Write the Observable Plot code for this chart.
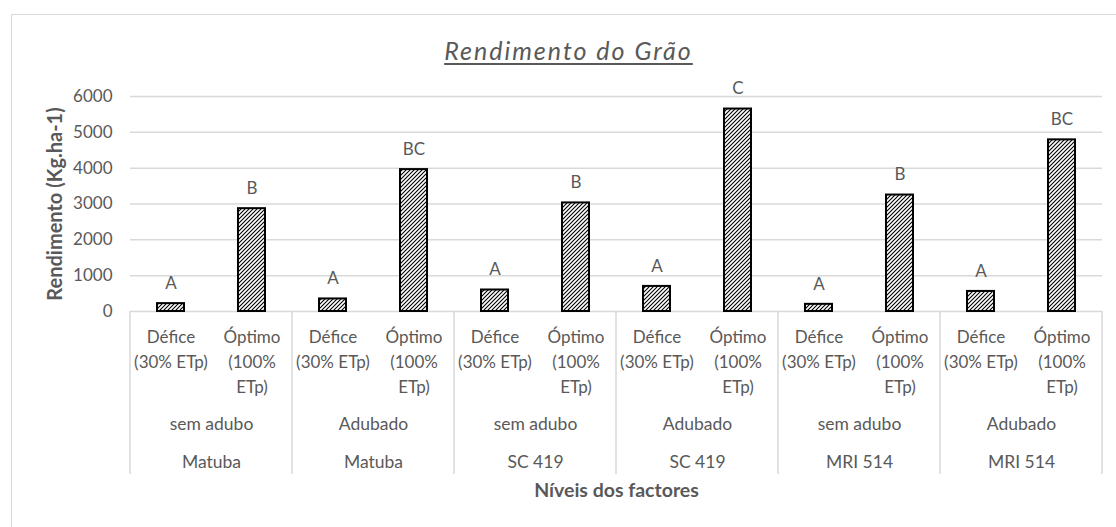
<!DOCTYPE html>
<html>
<head>
<meta charset="utf-8">
<script src="https://cdn.jsdelivr.net/npm/d3@7"></script>
<script src="https://cdn.jsdelivr.net/npm/@observablehq/plot@0.6"></script>
<style>
  html, body { margin: 0; padding: 0; background: #fff; overflow: hidden; }
  #wrap { position: relative; width: 1116px; height: 527px; overflow: hidden; }
  #border { position: absolute; left: 11px; top: 14px; width: 1200px; height: 600px; border: 1.5px solid #d9d9d9; box-sizing: border-box; }
  #title { position: absolute; left: 0; width: 1137px; top: 33px; text-align: center; font-family: Lato, sans-serif; font-style: italic; font-size: 25px; letter-spacing: 2px; color: #595959; text-decoration: underline; text-underline-offset: 3px; line-height: 34px; }
  #chart { position: absolute; left: 0; top: 0; }
</style>
</head>
<body>
<div id="wrap">
  <div id="border"></div>
  <div id="chart"></div>
  <div id="title">Rendimento do Grão</div>
</div>
<script>
// ---- data ----
const cultivars = ["Matuba", "Matuba", "SC 419", "SC 419", "MRI 514", "MRI 514"];
const fertilization = ["sem adubo", "Adubado", "sem adubo", "Adubado", "sem adubo", "Adubado"];
const levelKeys = ["Défice", "Óptimo"];
const levelLabels = ["Défice\n(30% ETp)", "Óptimo\n(100%\nETp)"];
const values = [220, 2870, 350, 3960, 600, 3030, 700, 5650, 200, 3250, 560, 4790];
const letters = ["A", "B", "A", "BC", "A", "B", "A", "C", "A", "B", "A", "BC"];
const yTicks = [0, 1000, 2000, 3000, 4000, 5000, 6000];
const yTitle = "Rendimento (Kg.ha-1)";
const xTitle = "Níveis dos factores";

// ---- tables built from the arrays ----
const groupKeys = cultivars.map((c, i) => `${c} / ${fertilization[i]}`);
const data = [];
groupKeys.forEach((g, gi) => levelKeys.forEach((l, li) => data.push({
  group: g, level: l, label: levelLabels[li],
  value: values[gi * 2 + li], letter: letters[gi * 2 + li]
})));
const groupsData = groupKeys.map((g, i) => ({group: g, cultivar: cultivars[i], fert: fertilization[i]}));

const plot = Plot.plot({
  width: 1116, height: 527,
  marginTop: 96, marginBottom: 216, marginLeft: 128, marginRight: 13,
  style: {fontFamily: "Lato, sans-serif", fontSize: "17px", color: "#595959", background: "transparent", overflow: "visible"},
  fx: {domain: groupKeys, padding: 0, axis: null},
  x: {domain: levelKeys, paddingInner: 0.667, paddingOuter: 0.333, axis: null},
  y: {domain: [0, 6000], axis: null},
  marks: [
    Plot.gridY(yTicks, {stroke: "#d9d9d9", strokeOpacity: 1, strokeWidth: 1.5}),
    Plot.axisY(yTicks, {tickSize: 0, tickPadding: 18, label: null, tickFormat: d => String(d)}),
    Plot.barY(data, {fx: "group", x: "level", y: "value", fill: "url(#hatch)", stroke: "#000", strokeWidth: 2}),
    Plot.text(data, {fx: "group", x: "level", y: "value", text: "letter", dy: -20}),
    Plot.text(data, {fx: "group", x: "level", text: "label", frameAnchor: "bottom", lineAnchor: "top", lineHeight: 1.46, dy: 14}),
    Plot.text(groupsData, {fx: "group", text: "fert", frameAnchor: "bottom", dy: 118, fontSize: 17.5}),
    Plot.text(groupsData, {fx: "group", text: "cultivar", frameAnchor: "bottom", dy: 156, fontSize: 17.5}),
    Plot.text([{group: groupKeys[0]}], {fx: "group", text: () => yTitle, frameAnchor: "left", textAnchor: "middle", rotate: -90, dx: -75, fontWeight: "bold", fontSize: 20}),
    Plot.text([{group: groupKeys[2]}], {fx: "group", text: () => xTitle, frameAnchor: "bottom-right", textAnchor: "middle", dy: 185, fontWeight: "bold", fontSize: 19.5})
  ]
});

// hatch pattern + category separators using the plot's own scales
const svg = d3.select(plot);
svg.insert("defs", ":first-child").html(
  '<pattern id="hatch" patternUnits="userSpaceOnUse" width="4" height="4">' +
  '<rect width="4" height="4" fill="#fff"/>' +
  '<path d="M-1,1 l2,-2 M0,4 l4,-4 M3,5 l2,-2" stroke="#000" stroke-width="1.1"/></pattern>'
);
const fxS = plot.scale("fx"), yS = plot.scale("y");
const y0 = yS.apply(0);
const edges = groupKeys.map(g => fxS.apply(g));
edges.push(fxS.apply(groupKeys[groupKeys.length - 1]) + fxS.bandwidth);
const sep = svg.append("g").attr("stroke", "#d9d9d9").attr("stroke-width", 1.5);
edges.forEach(x => sep.append("line").attr("x1", x).attr("x2", x).attr("y1", y0).attr("y2", y0 + 163));

document.getElementById("chart").appendChild(plot);
</script>
</body>
</html>
